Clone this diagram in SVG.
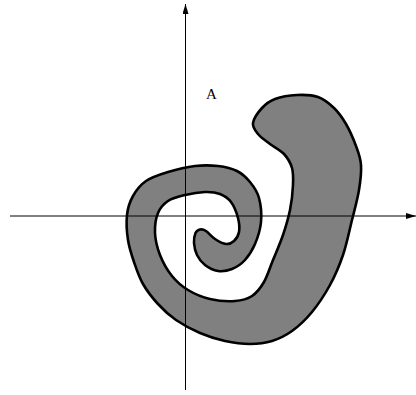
<svg xmlns="http://www.w3.org/2000/svg" width="416" height="395" viewBox="0 0 416 395">
<style>
.shape{fill:#808080;stroke:#000;stroke-width:2.6;stroke-linejoin:round}
.axis{stroke:#000;stroke-width:1;fill:none}
.lbl{font-family:"Liberation Serif",serif;font-size:15px;fill:#000}
</style>
<defs>
<marker id="arr" viewBox="0 0 10 6" refX="10" refY="3" markerWidth="10" markerHeight="6" markerUnits="userSpaceOnUse" orient="auto">
<path d="M0,0 L10,3 L0,6 Z" fill="#000"/>
</marker>
</defs>
<rect width="416" height="395" fill="#fff"/>
<g id="spiral">
<path class="shape" d="M253,123 C252.3,127.3 255.2,130.5 258,134 C260.8,137.5 265.7,140.7 270,144 C274.3,147.3 280.3,150 284,154 C287.7,158 290.5,162.8 292,168 C293.5,173.2 293.3,178 293,185 C292.7,192 291.7,201.7 290,210 C288.3,218.3 285.8,226.7 283,235 C280.2,243.3 276.2,252.2 273,260 C269.8,267.8 267.5,276 264,282 C260.5,288 256.8,292.8 252,296 C247.2,299.2 242,300.5 235,301 C228,301.5 217.8,300.8 210,299 C202.2,297.2 194.3,293.8 188,290 C181.7,286.2 176.7,281.8 172,276 C167.3,270.2 162.8,262.2 160,255 C157.2,247.8 155.3,240 155,233 C154.7,226 155.8,218.3 158,213 C160.2,207.7 163.5,204 168,201 C172.5,198 178.8,196.5 185,195 C191.2,193.5 199.2,192.2 205,192 C210.8,191.8 215.7,192.3 220,194 C224.3,195.7 228,198 231,202 C234,206 236.7,213 238,218 C239.3,223 239.7,228.2 239,232 C238.3,235.8 236.2,239 234,241 C231.8,243 229.2,244.3 226,244 C222.8,243.7 218.3,241.2 215,239 C211.7,236.8 208.5,232.6 206,231 C203.5,229.4 201.8,229.2 200,229.5 C198.3,229.8 196.5,230.8 195.5,233 C194.5,235.3 193.8,239.3 194,243 C194.3,246.7 195.2,251.3 197,255 C198.8,258.7 201.5,262.3 205,265 C208.5,267.7 213.5,270.3 218,271 C222.5,271.7 227.5,270.8 232,269 C236.5,267.2 241.2,264.2 245,260 C248.8,255.8 252.3,250.3 255,244 C257.7,237.7 260.3,229.7 261,222 C261.7,214.3 260.8,204.7 259,198 C257.2,191.3 253.7,186.5 250,182 C246.3,177.5 242.3,173.7 237,171 C231.7,168.3 225,166.8 218,166 C211,165.2 203.3,165 195,166 C186.7,167 176.2,169.5 168,172 C159.8,174.5 151.8,177 146,181 C140.2,185 136.2,190.3 133,196 C129.8,201.7 127.8,207.7 127,215 C126.2,222.3 126.8,232.2 128,240 C129.2,247.8 131.5,254.7 134,262 C136.5,269.3 139,277 143,284 C147,291 152.5,298 158,304 C163.5,310 169,315.2 176,320 C183,324.8 191.8,329.5 200,333 C208.2,336.5 216.7,339.2 225,341 C233.3,342.8 242.2,344 250,344 C257.8,344 265,343.2 272,341 C279,338.8 285.3,335.8 292,331 C298.7,326.2 305.7,319.7 312,312 C318.3,304.3 324.8,294.5 330,285 C335.2,275.5 339.3,265.8 343,255 C346.7,244.2 349.3,230.8 352,220 C354.7,209.2 357.5,199.2 359,190 C360.5,180.8 361.5,172.3 361,165 C360.5,157.7 358.5,152.8 356,146 C353.5,139.2 349.7,130.3 346,124 C342.3,117.7 338.7,112.5 334,108 C329.3,103.5 324.2,99.2 318,97 C311.8,94.8 304.2,94.7 297,95 C289.8,95.3 280.8,96.8 275,99 C269.2,101.2 265.7,104 262,108 C258.3,112 253.7,118.7 253,123 Z"/>
</g>
<g id="axes">
<line class="axis" x1="185.5" y1="390" x2="185.5" y2="4" marker-end="url(#arr)"/>
<line class="axis" x1="10" y1="216" x2="416" y2="216" marker-end="url(#arr)"/>
</g>
<g id="label-A">
<text class="lbl" x="206" y="98.5">A</text>
</g>
</svg>
